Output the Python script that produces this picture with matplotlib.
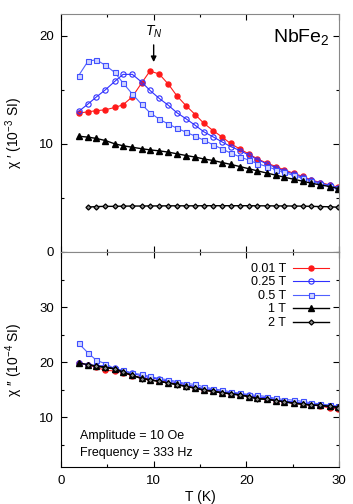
import matplotlib
matplotlib.use("Agg")
import matplotlib.pyplot as plt
from matplotlib.ticker import MultipleLocator

plt.rcParams['font.family'] = ['Liberation Sans', 'DejaVu Sans']
plt.rcParams['mathtext.fontset'] = 'custom'
plt.rcParams['mathtext.rm'] = 'Liberation Sans'
plt.rcParams['mathtext.it'] = 'Liberation Sans:italic'

# temperature grid (K)
T = [1.9, 2.9, 3.8, 4.8, 5.8, 6.7, 7.7, 8.7, 9.6, 10.6, 11.6, 12.5, 13.5, 14.5, 15.4,
     16.4, 17.4, 18.3, 19.3, 20.3, 21.2, 22.2, 23.2, 24.1, 25.1, 26.1, 27.0, 28.0, 29.0, 29.9]
T2 = T[1:]

# chi' (10^-3 SI)
re_001 = [12.84, 12.96, 13.06, 13.15, 13.36, 13.61, 14.35, 15.62, 16.73, 16.45, 15.5, 14.44,
          13.52, 12.69, 11.91, 11.23, 10.62, 10.03, 9.52, 9.05, 8.61, 8.22, 7.9, 7.59, 7.28,
          6.98, 6.67, 6.42, 6.2, 5.99]
re_025 = [12.99, 13.67, 14.32, 15.0, 15.77, 16.42, 16.42, 15.71, 14.94, 14.2, 13.55, 12.88,
          12.31, 11.7, 11.12, 10.65, 10.17, 9.75, 9.38, 8.95, 8.55, 8.15, 7.8, 7.5, 7.2,
          6.9, 6.62, 6.37, 6.15, 5.95]
re_05 = [16.3, 17.62, 17.78, 17.25, 16.6, 15.62, 14.6, 13.65, 12.88, 12.28, 11.82, 11.45,
         11.07, 10.7, 10.34, 9.92, 9.52, 9.15, 8.8, 8.48, 8.17, 7.9, 7.62, 7.35, 7.08,
         6.8, 6.55, 6.3, 6.1, 5.9]
re_1 = [10.7, 10.62, 10.5, 10.3, 10.0, 9.82, 9.68, 9.55, 9.44, 9.35, 9.23, 9.08, 8.92, 8.77,
        8.6, 8.46, 8.27, 8.1, 7.9, 7.69, 7.5, 7.3, 7.1, 6.91, 6.73, 6.54, 6.36, 6.2, 6.05, 5.86]
re_2 = [4.15, 4.2, 4.22, 4.22, 4.24, 4.25, 4.25, 4.26, 4.26, 4.27, 4.27, 4.27, 4.27, 4.28,
        4.28, 4.28, 4.28, 4.28, 4.28, 4.27, 4.27, 4.26, 4.26, 4.25, 4.24, 4.22, 4.2, 4.18, 4.14]

# chi'' (10^-4 SI)
im_001 = [19.8, 19.5, 19.05, 18.5, 18.4, 18.1, 17.5, 17.2, 16.85, 16.55, 16.3, 16.0, 15.65,
          15.3, 14.95, 14.7, 14.45, 14.25, 14.1, 13.8, 13.6, 13.3, 13.0, 12.8, 12.55, 12.38,
          12.2, 12.05, 11.65, 11.5]
im_025 = [19.8, 19.55, 19.35, 19.3, 18.85, 18.45, 17.95, 17.5, 17.2, 16.85, 16.55, 16.25,
          15.9, 15.55, 15.2, 14.95, 14.65, 14.4, 14.2, 13.95, 13.7, 13.5, 13.2, 12.95, 12.75,
          12.55, 12.35, 12.2, 12.0, 11.9]
im_05 = [23.4, 21.7, 20.35, 19.7, 18.8, 18.5, 18.0, 17.75, 17.4, 17.0, 16.8, 16.45, 16.1,
         15.95, 15.5, 15.15, 14.9, 14.6, 14.35, 14.1, 13.95, 13.75, 13.4, 13.2, 13.1, 12.85,
         12.6, 12.4, 12.2, 12.0]
im_1 = [19.85, 19.55, 19.3, 19.1, 18.8, 18.2, 17.6, 17.05, 16.8, 16.5, 16.2, 15.95, 15.6,
        15.3, 14.95, 14.7, 14.45, 14.25, 14.05, 13.75, 13.4, 13.27, 13.0, 12.8, 12.55, 12.38,
        12.2, 12.12, 11.95, 11.8]
im_2 = [19.5, 19.25, 19.0, 18.75, 18.15, 17.6, 17.0, 16.75, 16.5, 16.2, 15.9, 15.55, 15.25,
        14.9, 14.68, 14.42, 14.22, 14.0, 13.72, 13.3, 13.25, 13.0, 12.78, 12.52, 12.36, 12.18,
        12.12, 11.95, 11.75]

labels = ["0.01 T", "0.25 T", "0.5 T", "1 T", "2 T"]

styles = [
    dict(color='#ff1a1a', marker='o', ms=3.6, mfc='#ff1a1a', mec='#ff1a1a', lw=0.8),
    dict(color='#3030ff', marker='o', ms=3.8, mfc='none', mec='#3030ff', mew=0.8, lw=0.8),
    dict(color='#5060ff', marker='s', ms=3.6, mfc='#d0d5ff', mec='#4050ff', mew=0.8, lw=0.8),
    dict(color='black', marker='^', ms=3.8, mfc='black', mec='black', lw=1.0),
    dict(color='black', marker='D', ms=2.6, mfc='#888888', mec='black', mew=0.9, lw=1.0),
]

fig = plt.figure(figsize=(3.53, 5.04), dpi=100)
ax1 = fig.add_axes([0.1728, 0.5, 0.7875, 0.4722])
ax2 = fig.add_axes([0.1728, 0.074, 0.7875, 0.426])

top = [re_001, re_025, re_05, re_1, re_2]
bot = [im_001, im_025, im_05, im_1, im_2]
for i in range(5):
    x = T2 if i == 4 else T
    ax1.plot(x, top[i], **styles[i])
    ax2.plot(x, bot[i], label=labels[i], **styles[i])

for ax in (ax1, ax2):
    ax.set_xlim(0, 30)
    ax.xaxis.set_major_locator(MultipleLocator(10))
    ax.xaxis.set_minor_locator(MultipleLocator(5))
    ax.yaxis.set_minor_locator(MultipleLocator(5))
    ax.tick_params(which='both', direction='in', top=True, right=True, labelsize=9.5)
    ax.tick_params(which='major', length=4, width=0.8)
    ax.tick_params(which='minor', length=2.5, width=0.8)
    ax.tick_params(axis='y', pad=5)
    ax.tick_params(axis='x', pad=6)
    ax.spines['left'].set_color('black')
    ax.spines['bottom'].set_color('black')
    ax.spines['top'].set_color('#888888')
    ax.spines['right'].set_color('#888888')

ax1.set_ylim(0, 22)
ax1.set_yticks([0, 10, 20])
ax1.tick_params(axis='x', labelbottom=False)
ax1.spines['bottom'].set_color('#888888')
ax1.set_ylabel("χ ′ (10$^{-3}$ SI)", fontsize=10)
ax1.yaxis.set_label_coords(-0.13, 0.5)

ax1.text(29, 19.9, "NbFe$_2$", fontsize=14, ha='right', va='center')
ax1.annotate("", xy=(10, 17.3), xytext=(10, 19.4),
             arrowprops=dict(arrowstyle='-|>', color='black', lw=1, mutation_scale=8))
ax1.text(10, 20.4, "$T_N$", fontsize=10, ha='center', va='center')

ax2.set_ylim(1, 40)
ax2.set_yticks([10, 20, 30])
ax2.set_ylabel("χ ′′ (10$^{-4}$ SI)", fontsize=10)
ax2.yaxis.set_label_coords(-0.13, 0.5)
ax2.set_xlabel("T (K)", fontsize=10, labelpad=2)

ax2.text(2.0, 6.5, "Amplitude = 10 Oe", fontsize=9, ha='left', va='center')
ax2.text(2.0, 3.4, "Frequency = 333 Hz", fontsize=9, ha='left', va='center')

ax2.legend(loc='upper right', bbox_to_anchor=(0.995, 0.99), frameon=False, markerfirst=False,
           fontsize=9, handlelength=2.9, labelspacing=0.12, handletextpad=0.5,
           borderpad=0.2)

fig.savefig("out.png", dpi=100)
